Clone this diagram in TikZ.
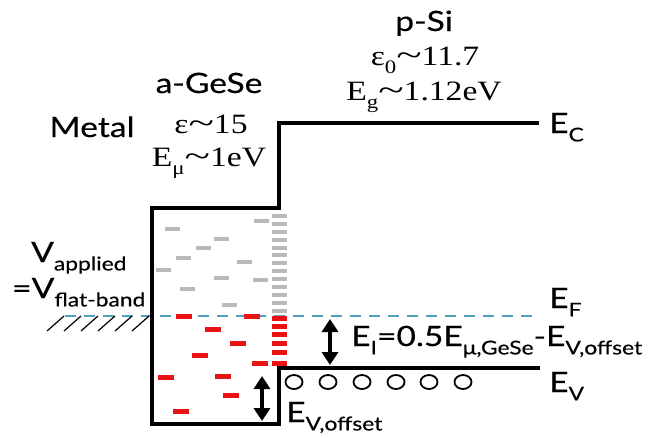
\documentclass[tikz,border=0pt]{standalone}
\usepackage{fontspec}
\setmainfont[FakeStretch=1.2,FakeBold=0.4]{Lato}
\newfontfamily\tms[FakeStretch=1.2]{Liberation Serif}
\usetikzlibrary{arrows.meta}
\definecolor{efblue}{RGB}{80,160,190}
\definecolor{trapred}{RGB}{232,20,20}
\definecolor{trapgray}{RGB}{185,185,185}
\newcommand{\lo}[1]{\raisebox{-0.3em}{\fontsize{19}{19}\selectfont #1}}
\newcommand{\tld}{\scalebox{1.4}[1.1]{\textasciitilde}}

\begin{document}
\begin{tikzpicture}[x=1pt,y=-1pt,
  band/.style={line width=4.5pt},
  gtrap/.style={line width=4pt,trapgray},
  rtrap/.style={line width=5pt,trapred},
  dbl/.style={line width=4pt,{Triangle[width=16pt,length=13pt]}-{Triangle[width=16pt,length=13pt]}},
  lbl/.style={inner sep=0pt,font=\fontsize{28}{30}\selectfont},
  slbl/.style={inner sep=0pt,font=\tms\fontsize{28}{30}\selectfont}]
\useasboundingbox (0,0) rectangle (668,437);
% Fermi level and the hatched metal
\draw[efblue,line width=2pt,dash pattern=on 11pt off 8pt] (65,316) -- (540,316);
\draw[line width=1.2pt] (47,331) -- (64,316) (64,331) -- (81,316) (81,331) -- (98,316)
  (98,331) -- (115,316) (115,331) -- (132,316) (132,331) -- (149,316);
% traps
\draw[gtrap] (165,229) -- +(15,0) (254,221) -- +(15,0) (214,239) -- +(15,0) (196,248) -- +(15,0)
  (176,258) -- +(15,0) (156,270) -- +(15,0) (237,262) -- +(15,0) (214,278) -- +(15,0)
  (253,280) -- +(15,0) (180,289) -- +(15,0) (222,305) -- +(15,0);
\draw[gtrap] (272,216) -- +(15,0) (272,224) -- +(15,0) (272,232) -- +(15,0) (272,240) -- +(15,0)
  (272,248) -- +(15,0) (272,255) -- +(15,0) (272,263) -- +(15,0) (272,271) -- +(15,0)
  (272,279) -- +(15,0) (272,287) -- +(15,0) (272,295) -- +(15,0) (272,303) -- +(15,0)
  (272,311) -- +(15,0);
\draw[rtrap] (176,316) -- +(16,0) (244,316) -- +(16,0) (205,329) -- +(16,0) (230,343) -- +(16,0)
  (192,355) -- +(16,0) (252,363) -- +(16,0) (158,377) -- +(16,0) (215,376) -- +(16,0)
  (223,395) -- +(16,0) (173,411) -- +(16,0);
\draw[rtrap] (272,318) -- +(15,0) (272,326) -- +(15,0) (272,334) -- +(15,0) (272,343) -- +(15,0)
  (272,352) -- +(15,0) (272,363) -- +(15,0);
% band edges
\coordinate (ec) at (539,123);
\coordinate (ev) at (540,368);
\draw[band] (ec) -- (279,123) -- (279,208) -- (152,208) -- (152,424) -- (279,424) -- (279,368) -- (ev);
% holes
\draw[line width=1.8pt] (294,382) ellipse (8.5pt and 7pt) (328,382) ellipse (8.5pt and 7pt)
  (362,382) ellipse (8.5pt and 7pt) (396,382) ellipse (8.5pt and 7pt)
  (429,382) ellipse (8.5pt and 7pt) (463,382) ellipse (8.5pt and 7pt);
% arrows
\coordinate (i1) at (330,319);
\coordinate (i2) at (330,365);
\coordinate (o1) at (262,376);
\coordinate (o2) at (262,421);
\draw[dbl] (i1) -- (i2);
\draw[dbl] (o1) -- (o2);
% labels
\node[lbl,anchor=base] (metal) at (92,137) {Metal};
\node[lbl,anchor=base] (gese) at (209,93) {a-GeSe};
\node[slbl,anchor=base] (eps) at (211,133) {ε\tld15};
\node[slbl,anchor=base] (emu) at (209,166) {E\lo{μ}\tld1eV};
\node[lbl,anchor=base] (psi) at (424,31) {p-Si};
\node[slbl,anchor=base] (eps0) at (425,65) {ε\lo{0}\tld11.7};
\node[slbl,anchor=base] (eg) at (424,100) {E\lo{g}\tld1.12eV};
\node[lbl,anchor=base west] (lec) at (549,133) {E\lo{C}};
\node[lbl,anchor=base west] (lef) at (549,308) {E\lo{F}};
\node[lbl,anchor=base west] (lev) at (549,392) {E\lo{V}};
\node[lbl,anchor=base west] (lei) at (351,346) {E\lo{I}=0.5E\lo{μ,GeSe}-E\lo{V,offset}};
\node[lbl,anchor=base west] (loff) at (286,422) {E\lo{V,offset}};
\node[lbl,anchor=base west] (vap) at (31,262) {V\lo{applied}};
\node[lbl,anchor=base west] (vfb) at (12,298) {=V\lo{flat-band}};
\end{tikzpicture}
\end{document}
